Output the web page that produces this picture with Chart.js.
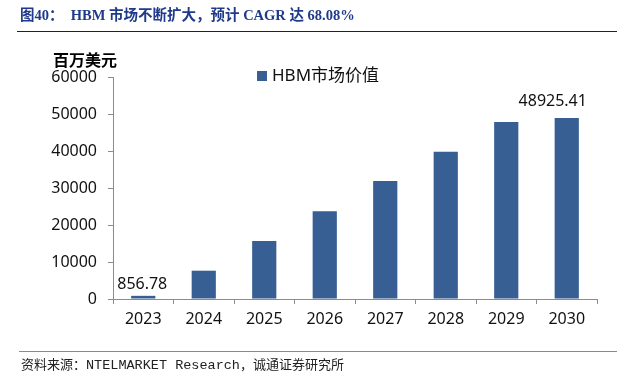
<!DOCTYPE html>
<html>
<head>
<meta charset="utf-8">
<script src="https://cdn.jsdelivr.net/npm/chart.js@4.4.0/dist/chart.umd.min.js"></script>
<style>
  body { margin: 0; background: #fff; }
  #wrap { position: relative; width: 617px; height: 376px; overflow: hidden; }
  #chart { position: absolute; left: 0; top: 0; }
  #title { position: absolute; left: 20px; top: 3px; white-space: pre; color: #1f3a8a;
           font: bold 14.5px 'Liberation Serif', 'Noto Sans CJK SC', serif; }
  #rule1 { position: absolute; left: 17px; top: 31px; width: 600px; height: 1px; background: #222; }
  #unit { position: absolute; left: 53px; top: 47px; font: bold 16px 'Noto Sans CJK SC', sans-serif; color: #000; }
  #rule2 { position: absolute; left: 19px; top: 351px; width: 598px; height: 1px; background: #8a8a8a; }
  #source { position: absolute; left: 21px; top: 354px; white-space: pre; color: #222; }
  #source .cjk { font: 13px 'Noto Sans CJK SC', sans-serif; }
  #source .mono { font: 13.5px 'Liberation Mono', monospace; }
</style>
</head>
<body>
<div id="wrap">
  <canvas id="chart" width="617" height="376"></canvas>
  <div id="title">图40：  HBM 市场不断扩大，预计 CAGR 达 68.08%</div>
  <div id="rule1"></div>
  <div id="unit">百万美元</div>
  <div id="rule2"></div>
  <div id="source"><span class="cjk">资料来源：</span><span class="mono">NTELMARKET Research</span><span class="cjk">，诚通证券研究所</span></div>
</div>
<script>
// HBM市场价值（百万美元）
const years = ['2023', '2024', '2025', '2026', '2027', '2028', '2029', '2030'];
const marketValue = [856.78, 7650, 15680, 23700, 31890, 39810, 47840, 48925.41];
const labelledYears = ['2023', '2030'];

const barColor = '#375f93';
const fontFamily = "'Noto Sans', 'Noto Sans CJK SC', sans-serif";

// only first and last bars carry a value label
const valueLabels = {
    id: 'valueLabels',
    afterDatasetsDraw(chart) {
        const ctx = chart.ctx;
        const meta = chart.getDatasetMeta(0);
        ctx.save();
        ctx.font = '16px ' + fontFamily;
        ctx.fillStyle = '#111';
        ctx.textAlign = 'center';
        ctx.textBaseline = 'middle';
        meta.data.forEach((bar, i) => {
            if (!labelledYears.includes(years[i])) return;
            const text = marketValue[i].toFixed(2);
            const dx = i === 0 ? -1 : -14;
            const dy = i === 0 ? -11 : -17;
            ctx.fillText(text, bar.x + dx, bar.y + dy);
        });
        ctx.restore();
    }
};

// legend drawn by hand so it sits inside the plot like the original
const innerLegend = {
    id: 'innerLegend',
    afterDraw(chart) {
        const ctx = chart.ctx;
        ctx.save();
        ctx.fillStyle = barColor;
        ctx.fillRect(257, 71, 10, 10);
        ctx.font = '17px ' + fontFamily;
        ctx.fillStyle = '#111';
        ctx.textAlign = 'left';
        ctx.textBaseline = 'middle';
        ctx.fillText(chart.data.datasets[0].label, 272, 76);
        ctx.restore();
    }
};

const ctx = document.getElementById('chart').getContext('2d');
const chart = new Chart(ctx, {
    type: 'bar',
    data: {
        labels: years,
        datasets: [{
            label: 'HBM市场价值',
            data: marketValue,
            backgroundColor: barColor,
            borderWidth: 0,
            barPercentage: 0.4,
            categoryPercentage: 1.0
        }]
    },
    options: {
        responsive: false,
        devicePixelRatio: 1,
        animation: false,
        layout: { padding: { left: 0, right: 20, top: 77, bottom: 0 } },
        plugins: {
            legend: { display: false },
            tooltip: { enabled: false }
        },
        scales: {
            x: {
                grid: { drawOnChartArea: false, color: '#8c8c8c', tickLength: 5, offset: true },
                border: { color: '#8c8c8c', width: 1 },
                ticks: { color: '#111', font: { size: 16, family: fontFamily }, padding: 6 },
                afterFit(scale) { scale.height = 77; }
            },
            y: {
                min: 0,
                max: 60000,
                grid: { drawOnChartArea: false, color: '#8c8c8c', tickLength: 5 },
                border: { color: '#8c8c8c', width: 1 },
                ticks: {
                    stepSize: 10000,
                    color: '#111',
                    font: { size: 16, family: fontFamily },
                    padding: 11,
                    callback: (value) => String(value)
                },
                afterFit(scale) { scale.width = 113; }
            }
        }
    },
    plugins: [valueLabels, innerLegend]
});
</script>
</body>
</html>
